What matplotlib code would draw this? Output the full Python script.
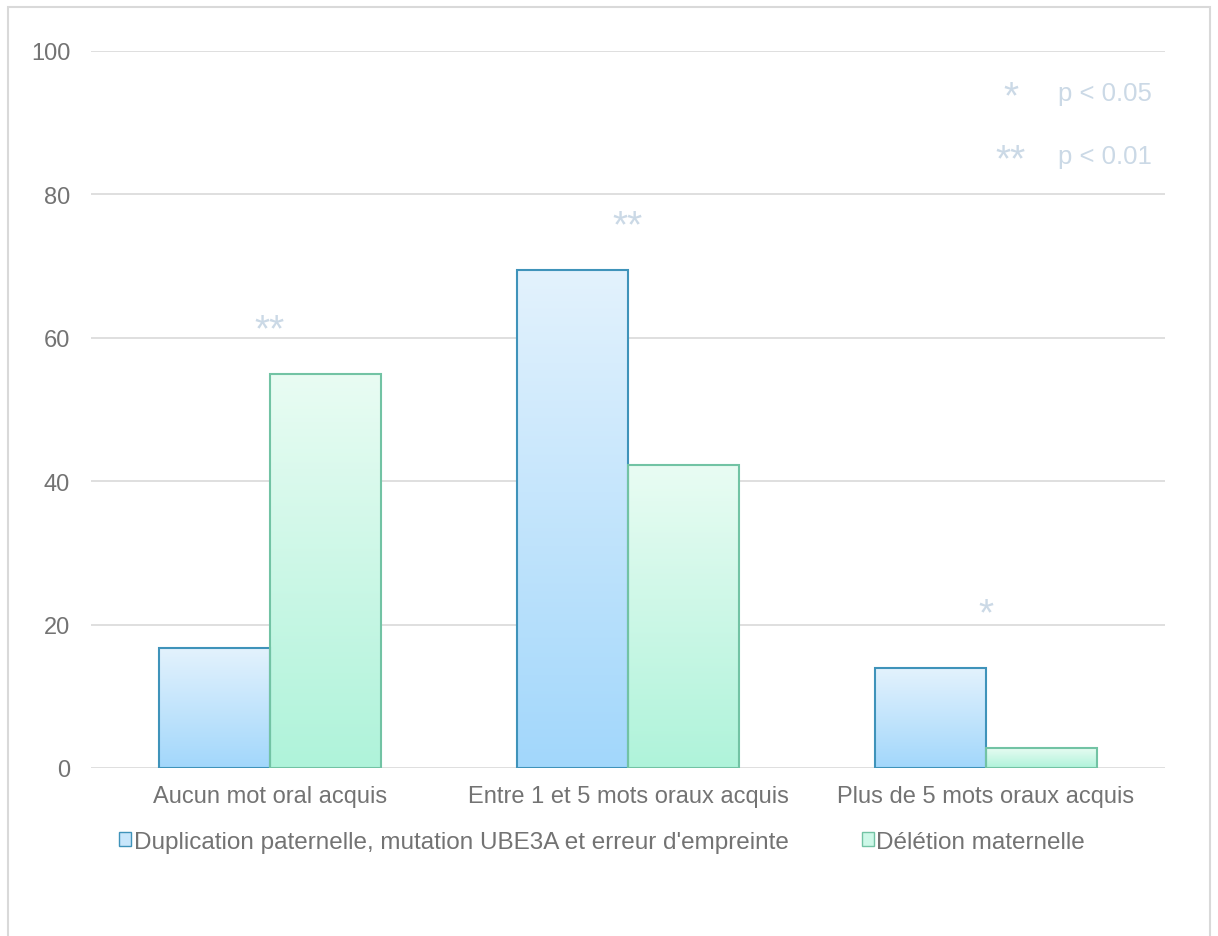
import matplotlib.pyplot as plt
import numpy as np
from matplotlib.colors import LinearSegmentedColormap
from matplotlib.patches import Patch, Rectangle

plt.rcParams['font.family'] = ['Liberation Sans', 'DejaVu Sans']

categories = ['Aucun mot oral acquis', 'Entre 1 et 5 mots oraux acquis', 'Plus de 5 mots oraux acquis']
dup_values = [16.7, 69.4, 13.9]
del_values = [54.9, 42.3, 2.8]
series_names = ["Duplication paternelle, mutation UBE3A et erreur d'empreinte", 'Délétion maternelle']
stars = ['**', '**', '*']
star_y = [61.0, 75.5, 21.5]
yticks = [0, 20, 40, 60, 80, 100]

grey = '#737373'
star_col = '#cbd9e6'

blue_cm = LinearSegmentedColormap.from_list('b', ['#a2d7fb', '#e3f2fd'])
green_cm = LinearSegmentedColormap.from_list('g', ['#aff3da', '#e9fcf3'])

fig = plt.figure(figsize=(12.18, 9.37), dpi=100)
ax = fig.add_axes([91 / 1218, 1 - 769 / 937, 1074 / 1218, 717 / 937])

# outer frame
fig.patches.append(Rectangle((8 / 1218, -0.01), 1202 / 1218, 1 - 8 / 937 + 0.01,
                             transform=fig.transFigure, fill=False,
                             edgecolor='#d9d9d9', linewidth=1.5))

x = np.arange(len(categories))
w = 0.31
grad = np.linspace(0, 1, 256).reshape(-1, 1)


def gradient_bars(xs, vals, cmap, edge):
    bars = ax.bar(xs, vals, w, facecolor='none', edgecolor=edge, linewidth=1.5, zorder=3)
    for b in bars:
        x0, y0 = b.get_x(), b.get_y()
        im = ax.imshow(grad, cmap=cmap, origin='lower', aspect='auto',
                       extent=[x0, x0 + b.get_width(), y0, y0 + b.get_height()], zorder=2)
        im.set_clip_path(b)
    return bars


gradient_bars(x - w / 2, dup_values, blue_cm, '#3f93ba')
gradient_bars(x + w / 2, del_values, green_cm, '#72c3a4')

for i, s in enumerate(stars):
    ax.text(x[i], star_y[i], s, ha='center', va='center', color=star_col, fontsize=28)

ax.text(2.07, 93.5, '*', ha='center', va='center', color=star_col, fontsize=28)
ax.text(2.2, 94.1, 'p < 0.05', ha='left', va='center', color=star_col, fontsize=18.5)
ax.text(2.07, 84.7, '**', ha='center', va='center', color=star_col, fontsize=28)
ax.text(2.2, 85.3, 'p < 0.01', ha='left', va='center', color=star_col, fontsize=18.5)

ax.set_xlim(-0.5, 2.5)
ax.set_ylim(0, 100)
ax.set_yticks(yticks)
ax.set_xticks(x)
ax.set_xticklabels(categories)
ax.tick_params(length=0, labelsize=17, colors=grey, pad=12)
ax.tick_params(axis='y', pad=15)
ax.grid(axis='y', color='#d9d9d9', linewidth=1.2, zorder=0)
ax.set_axisbelow(True)
for sp in ax.spines.values():
    sp.set_visible(False)

handles = [Patch(facecolor='#c8e6fb', edgecolor='#3f93ba', label=series_names[0]),
           Patch(facecolor='#cdf8e8', edgecolor='#72c3a4', label=series_names[1])]
fig.legend(handles=handles, loc='center', bbox_to_anchor=(602 / 1218, 1 - 843 / 937),
           ncol=2, frameon=False, labelcolor=grey, handlelength=0.5,
           handleheight=0.5, handletextpad=0.1, columnspacing=3,
           prop={'size': 17.5})

fig.savefig('out.png', dpi=100)
